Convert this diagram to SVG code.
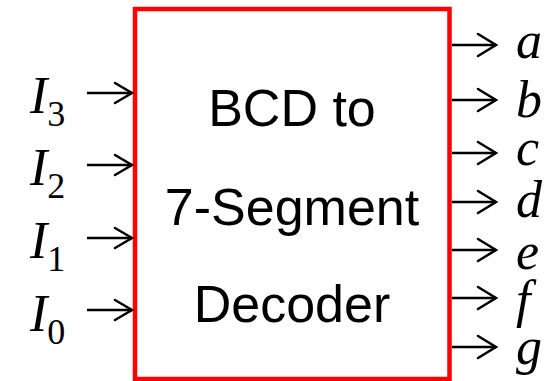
<svg xmlns="http://www.w3.org/2000/svg" width="556" height="381" viewBox="0 0 556 381">
  <style>
    .box { fill: #fff; stroke: #ff0000; stroke-width: 4.5; }
    .wire { stroke: #000; stroke-width: 2.5; fill: none; }
    .head { stroke: #000; stroke-width: 2.5; fill: none; stroke-linecap: round; stroke-linejoin: miter; }
    .title { font-family: "Liberation Sans", Arial, sans-serif; font-size: 52px; fill: #000; text-anchor: middle; }
    .sig { font-family: "Liberation Serif", "Times New Roman", serif; font-style: italic; font-size: 52px; fill: #000; }
    .sub { font-style: normal; font-size: 36px; }
  </style>
  <rect width="556" height="381" fill="#fff"/>

  <g id="decoder">
    <rect class="box" x="135" y="9" width="314.5" height="370"/>
    <text class="title" x="292" y="126">BCD to</text>
    <text class="title" x="292" y="225">7-Segment</text>
    <text class="title" x="292" y="322">Decoder</text>
  </g>

  <!-- input labels -->
  <g id="in-I3"><text class="sig" x="30" y="113">I<tspan class="sub" dy="13">3</tspan></text></g>
  <g id="in-I2"><text class="sig" x="30" y="185">I<tspan class="sub" dy="13">2</tspan></text></g>
  <g id="in-I1"><text class="sig" x="30" y="258">I<tspan class="sub" dy="13">1</tspan></text></g>
  <g id="in-I0"><text class="sig" x="30" y="331">I<tspan class="sub" dy="13">0</tspan></text></g>

  <!-- output labels -->
  <g id="out-a"><text class="sig" x="516" y="58">a</text></g>
  <g id="out-b"><text class="sig" x="516" y="117">b</text></g>
  <g id="out-c"><text class="sig" x="516" y="165">c</text></g>
  <g id="out-d"><text class="sig" x="516" y="217">d</text></g>
  <g id="out-e"><text class="sig" x="516" y="269">e</text></g>
  <g id="out-f"><text class="sig" x="516" y="317">f</text></g>
  <g id="out-g"><text class="sig" x="516" y="364">g</text></g>

  <g id="connectors">
    <!-- inputs -->
    <path class="wire" d="M87 93H132M87 165H132M87 238H132M87 310H132"/>
    <path class="head" d="M115 83L132 93L115 103M115 155L132 165L115 175M115 228L132 238L115 248M115 300L132 310L115 320"/>
    <!-- outputs -->
    <path class="wire" d="M452 45H496M452 100H496M452 153H496M452 202H496M452 250H496M452 298H496M452 347H496"/>
    <path class="head" d="M478 34L496 45L478 56M478 89L496 100L478 111M478 142L496 153L478 164M478 191L496 202L478 213M478 239L496 250L478 261M478 287L496 298L478 309M478 336L496 347L478 358"/>
  </g>
</svg>
